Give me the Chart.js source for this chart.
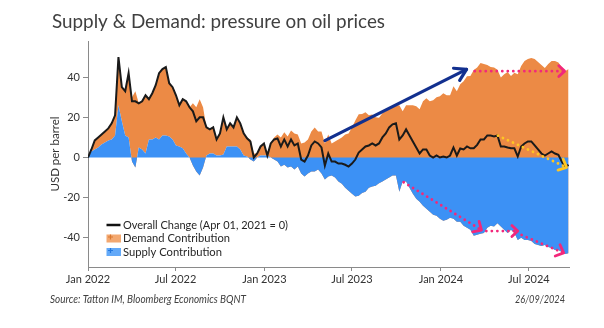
<!DOCTYPE html>
<html><head><meta charset="utf-8">
<script src="https://cdn.jsdelivr.net/npm/chart.js@4.4.1/dist/chart.umd.min.js"></script>
<style>html,body{margin:0;padding:0;background:#fff;}#wrap{width:604px;height:328px;position:relative;}</style>
</head><body>
<div id="wrap"><canvas id="c" width="604" height="328"></canvas></div>
<script>
const TITLE = 'Supply & Demand: pressure on oil prices';
const SOURCE = 'Source: Tatton IM, Bloomberg Economics BQNT';
const DATE_TEXT = '26/09/2024';
const Y_TITLE = 'USD per barrel';
const LEGEND_LABELS = ['Overall Change (Apr 01, 2021 = 0)', 'Demand Contribution', 'Supply Contribution'];
const START_DATE = '2022-01-01';
const END_DATE = '2024-09-22';
const STEP_DAYS = 7; // weekly observations
const X_TICK_DATES = ['2022-01-01','2022-07-01','2023-01-01','2023-07-01','2024-01-01','2024-07-01'];
const X_TICK_LABELS = ['Jan 2022','Jul 2022','Jan 2023','Jul 2023','Jan 2024','Jul 2024'];
const Y_TICKS = [-40, -20, 0, 20, 40];

const OVERALL = [
 0, 4, 8.5, 10, 11.5, 13, 14.5, 17, 21, 50,
 35, 33, 42, 28, 28, 27, 28, 31, 29, 32,
 36, 42, 44, 45, 37, 35, 31, 26, 29, 28,
 25, 23, 18, 20, 20, 15, 14, 15, 9, 12,
 20, 14, 17, 15, 20, 17, 12, 9.6, 8, 0,
 2, 5.5, 7, 1, 7, 9, 9.5, 5.5, 9, 5.5,
 9, 6, 7, -1, -2, 1, 6, 8, 7, 5,
 -4, 2, -2, -2, -3, -3, -3.6, -4.5, -3, -1,
 2.5, 4, 5.5, 6, 7, 6, 7, 10, 12, 15,
 16.5, 17, 9, 11, 14, 11, 8, 5, 2, 4,
 4, 1, 0, 1, 0, 0.5, 0, 1, 5, 1,
 4.5, 4, 5.5, 4.6, 4.6, 6.3, 9, 9, 11, 11,
 10.5, 11, 5.5, 5.5, 5, 4.6, 4.6, 0.5, 5.5, 7,
 8, 8, 6, 4, 2, 1, 2, 3, 2, 1.3,
 -2, -5, -3.6
];
const DEMAND = [
 0, 1, 4.5, 5, 5, 5.5, 6, 8, 10, 24,
 17, 22, 32, 30, 33, 22, 24, 29, 20, 23,
 26, 33, 33, 34, 26.5, 26, 25, 20.5, 24.4, 26,
 25, 27, 25, 29, 25, 14, 12, 13, 8, 11,
 18.5, 8.5, 11.5, 9.5, 14.5, 13, 11, 9.1, 9, 2,
 2, 4.5, 6, 0, 7, 10, 11.5, 10, 12.6, 10.5,
 13.5, 12, 11.5, 7, 7.5, 9, 13, 15, 13, 13,
 7, 11.5, 7, 8, 9, 10, 11.4, 12, 15, 18.4,
 21.5, 21.7, 22.5, 21, 21.4, 20, 19.8, 22, 23, 25,
 25.5, 26, 26, 23, 26, 26, 26, 25.5, 24, 28,
 29.5, 28, 28.5, 30, 30.5, 32, 31, 31, 35.5, 33,
 36.5, 38, 40.5, 40.6, 43.6, 44.8, 47, 46.6, 46, 45,
 44.8, 43.7, 39.8, 41.5, 42.6, 40.6, 42.2, 41.5, 45.5, 48,
 49, 49.5, 49, 47.5, 46, 44.5, 46.5, 48, 48, 47.3,
 45, 43, 44
];
const SUPPLY = [
 0, 3, 4, 5, 6.5, 7.5, 8.5, 9, 11, 26,
 18, 11, 10, -2, -5, 5, 4, 2, 9, 9,
 10, 9, 11, 11, 10.5, 9, 6, 5.5, 4.6, 2,
 0, -4, -7, -9, -5, 1, 2, 2, 1, 1,
 1.5, 5.5, 5.5, 5.5, 5.5, 4, 1, 0.5, -1, -2,
 0, 1, 1, 1, 0, -1, -2, -4.5, -3.6, -5,
 -4.5, -6, -4.5, -8, -9.5, -8, -7, -7, -6, -8,
 -11, -9.5, -9, -10, -12, -13, -15, -16.5, -18, -19.4,
 -19, -17.7, -17, -15, -14.4, -14, -12.8, -12, -11, -10,
 -9, -9, -17, -12, -12, -15, -18, -20.5, -22, -24,
 -25.5, -27, -28.5, -29, -30.5, -31.5, -31, -30, -30.5, -32,
 -32, -34, -35, -36, -39, -38.5, -38, -37.6, -35, -34,
 -34.3, -32.7, -34.3, -36, -37.6, -36, -37.6, -41, -40, -41,
 -41, -41.5, -43, -43.5, -44, -43.5, -44.5, -45, -46, -46,
 -47, -48, -47.6
];

// annotation arrows in data units: [day1, value1, day2, value2]
const ARROW_TREND = [490, 8.4, 783, 43.9];
const ARROW_DEMAND_FLAT = [800, 43, 986, 43];
const ARROW_SUPPLY_1 = [653, -12.3, 814, -36.1];
const ARROW_SUPPLY_2 = [824, -36.6, 889, -36.6];
const ARROW_SUPPLY_3 = [897, -38.6, 984, -47.5];
const ARROW_OVERALL = [848, 10.9, 990, -4.9];

const ORANGE = '#EC8A45';
const BLUE = '#3C91F5';
const FONT = 'Lato, "Open Sans", sans-serif';

const DAY = 86400000;
const dayOf = d => Math.round((Date.parse(d) - Date.parse(START_DATE)) / DAY);
const X_TICK_DAYS = X_TICK_DATES.map(dayOf);
const X_MAX = dayOf(END_DATE);
const pts = arr => arr.map((v, i) => ({x: i * STEP_DAYS, y: v}));

function drawArrow(ctx, x1, y1, x2, y2, color, width, dotted, head, ang) {
  ctx.save();
  ctx.strokeStyle = color; ctx.lineWidth = width; ctx.lineCap = 'round'; ctx.lineJoin = 'round';
  ctx.setLineDash(dotted ? [0.01, 5.5] : []);
  ctx.beginPath(); ctx.moveTo(x1, y1); ctx.lineTo(x2, y2); ctx.stroke();
  ctx.setLineDash([]);
  const a = Math.atan2(y2 - y1, x2 - x1);
  ctx.beginPath();
  ctx.moveTo(x2 - head * Math.cos(a - ang), y2 - head * Math.sin(a - ang));
  ctx.lineTo(x2, y2);
  ctx.lineTo(x2 - head * Math.cos(a + ang), y2 - head * Math.sin(a + ang));
  ctx.stroke();
  ctx.restore();
}

function text(ctx, s, x, y, font, color, align, maxW) {
  ctx.save();
  ctx.font = font; ctx.fillStyle = color; ctx.textAlign = align || 'left'; ctx.textBaseline = 'middle';
  const w = ctx.measureText(s).width;
  if (maxW && w > maxW) ctx.fillText(s, x, y, maxW); else ctx.fillText(s, x, y);
  ctx.restore();
}

const overlay = {
  id: 'overlay',
  afterDatasetsDraw(chart) {
    const ctx = chart.ctx, xs = chart.scales.x, ys = chart.scales.y;
    const P = (a) => [xs.getPixelForValue(a[0]), ys.getPixelForValue(a[1]), xs.getPixelForValue(a[2]), ys.getPixelForValue(a[3])];
    let p = P(ARROW_TREND); drawArrow(ctx, p[0], p[1], p[2], p[3], '#12308F', 3.2, false, 13, 0.55);
    p = P(ARROW_DEMAND_FLAT); drawArrow(ctx, p[0], p[1], p[2], p[3], '#F2287B', 2.8, true, 8, 0.75);
    p = P(ARROW_SUPPLY_1); drawArrow(ctx, p[0], p[1], p[2], p[3], '#F2287B', 2.8, true, 9, 0.75);
    p = P(ARROW_SUPPLY_2); drawArrow(ctx, p[0], p[1], p[2], p[3], '#F2287B', 2.8, true, 8, 0.75);
    p = P(ARROW_SUPPLY_3); drawArrow(ctx, p[0], p[1], p[2], p[3], '#F2287B', 2.8, true, 9, 0.75);
    p = P(ARROW_OVERALL); drawArrow(ctx, p[0], p[1], p[2], p[3], '#FFC623', 2.8, true, 9, 0.75);
  },
  afterDraw(chart) {
    const ctx = chart.ctx, ca = chart.chartArea;
    text(ctx, TITLE, 52, 22, '20px ' + FONT, '#404040', 'left', 333);
    // legend
    const lx = ca.left + 18.5, tx = ca.left + 35;
    const r1 = ca.bottom - 42, r2 = ca.bottom - 28.5, r3 = ca.bottom - 15;
    ctx.save();
    ctx.strokeStyle = '#111'; ctx.lineWidth = 2.5;
    ctx.beginPath(); ctx.moveTo(lx, r1); ctx.lineTo(lx + 14, r1); ctx.stroke();
    ctx.fillStyle = '#F3A870'; ctx.fillRect(lx, r2 - 4, 14.5, 8);
    ctx.fillStyle = '#63A9F8'; ctx.fillRect(lx, r3 - 4, 14.5, 8);
    ctx.lineWidth = 1.2;
    ctx.strokeStyle = '#D9772F';
    ctx.beginPath(); ctx.moveTo(lx + 1.5, r2 - 1.5); ctx.lineTo(lx + 6.5, r2 - 1.5); ctx.moveTo(lx + 4, r2 - 4); ctx.lineTo(lx + 4, r2 + 1); ctx.stroke();
    ctx.strokeStyle = '#2378E0';
    ctx.beginPath(); ctx.moveTo(lx + 1.5, r3 - 1.5); ctx.lineTo(lx + 6.5, r3 - 1.5); ctx.moveTo(lx + 4, r3 - 4); ctx.lineTo(lx + 4, r3 + 1); ctx.stroke();
    ctx.restore();
    text(ctx, LEGEND_LABELS[0], tx, r1, '11.5px ' + FONT, '#262626', 'left', 165);
    text(ctx, LEGEND_LABELS[1], tx, r2, '11.5px ' + FONT, '#262626', 'left', 107);
    text(ctx, LEGEND_LABELS[2], tx, r3, '11.5px ' + FONT, '#262626', 'left', 99);
    // source and date
    text(ctx, SOURCE, 50, 299, 'italic 11px ' + FONT, '#404040', 'left', 196);
    text(ctx, DATE_TEXT, 565, 299, 'italic 11px ' + FONT, '#404040', 'right', 50);
  }
};

new Chart(document.getElementById('c'), {
  type: 'line',
  data: {
    datasets: [
      {label: 'Supply Contribution', data: pts(SUPPLY), backgroundColor: BLUE, borderColor: 'rgba(0,0,0,0)', borderWidth: 0, pointRadius: 0, fill: 'origin', stack: 'contrib', order: 1, tension: 0},
      {label: 'Demand Contribution', data: pts(DEMAND), backgroundColor: ORANGE, borderColor: 'rgba(0,0,0,0)', borderWidth: 0, pointRadius: 0, fill: '-1', stack: 'contrib', order: 1, tension: 0},
      {label: 'Overall Change', data: pts(OVERALL), borderColor: '#1a1a1a', borderWidth: 2, pointRadius: 0, fill: false, stack: 'overall', order: 0, tension: 0}
    ]
  },
  options: {
    responsive: false, animation: false, events: [],
    layout: {padding: {top: 41, right: 35, left: 0, bottom: 0}},
    plugins: {legend: {display: false}, title: {display: false}, tooltip: {enabled: false}},
    scales: {
      x: {
        type: 'linear', min: 0, max: X_MAX,
        afterBuildTicks: s => { s.ticks = X_TICK_DAYS.map(v => ({value: v})); },
        afterFit: s => { s.height = 61; },
        ticks: {autoSkip: false, maxRotation: 0, padding: 2, color: '#333', font: {family: FONT, size: 11},
          callback: (v, i) => X_TICK_LABELS[i]},
        grid: {display: true, drawOnChartArea: false, drawTicks: true, tickLength: 4, color: '#8a8a8a'},
        border: {display: true, color: '#8a8a8a', width: 1}
      },
      y: {
        type: 'linear', min: -54.5, max: 58, stacked: true,
        afterBuildTicks: s => { s.ticks = Y_TICKS.map(v => ({value: v})); },
        afterFit: s => { s.width = 88; },
        ticks: {padding: 3, color: '#333', font: {family: FONT, size: 11}},
        grid: {display: true, drawOnChartArea: false, drawTicks: true, tickLength: 5, color: '#8a8a8a'},
        border: {display: true, color: '#8a8a8a', width: 1},
        title: {display: true, text: Y_TITLE, color: '#333', font: {family: FONT, size: 11.5}, padding: {top: 48, bottom: 0}}
      }
    }
  },
  plugins: [overlay]
});
</script>
</body></html>
